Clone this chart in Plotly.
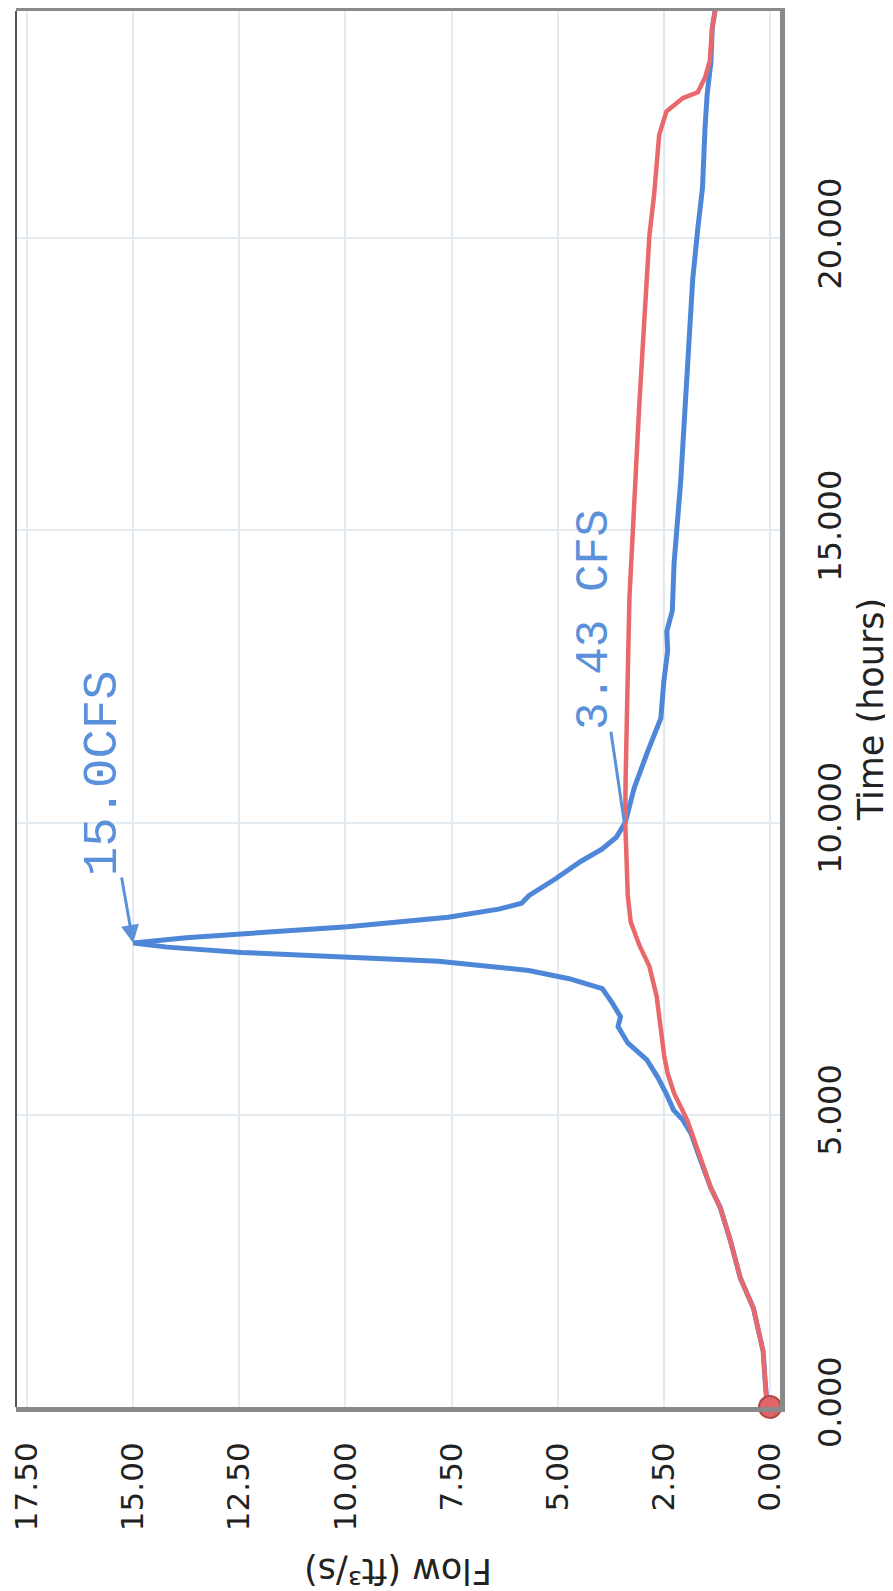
import plotly.graph_objects as go

# ---- data (time in hours, flow in ft3/s) ----
inflow_time = [0.0, 0.14, 0.5, 0.95, 1.3, 1.69, 2.21, 2.84, 3.41, 3.76, 4.27, 4.68, 4.91, 5.08,
               5.37, 5.65, 5.94, 6.23, 6.51, 6.68, 6.92, 7.16, 7.33, 7.47, 7.63, 7.70, 7.78,
               7.87, 7.94, 8.03, 8.12, 8.22, 8.38, 8.52, 8.62, 8.75, 9.04, 9.34, 9.55, 9.75,
               10.0, 10.59, 11.22, 11.79, 12.42, 12.94, 13.28, 13.63, 14.43, 15.12, 15.87,
               16.73, 17.3, 18.45, 19.3, 20.17, 20.86, 21.89, 22.46, 23.03, 23.6, 24.0]
inflow_flow = [0.0, 0.08, 0.12, 0.16, 0.27, 0.39, 0.70, 0.93, 1.17, 1.40, 1.66, 1.86, 2.05, 2.27,
               2.45, 2.65, 2.90, 3.35, 3.58, 3.52, 3.72, 3.95, 4.73, 5.68, 7.81, 9.95, 12.45,
               14.2, 15.0, 13.75, 12.1, 9.95, 7.58, 6.39, 5.85, 5.68, 5.05, 4.45, 3.95, 3.62,
               3.41, 3.2, 2.88, 2.57, 2.50, 2.41, 2.43, 2.30, 2.26, 2.18, 2.10,
               2.03, 1.99, 1.88, 1.82, 1.70, 1.59, 1.53, 1.48, 1.39, 1.36, 1.27]

outflow_time = [0.0, 0.14, 0.5, 0.95, 1.3, 1.69, 2.21, 2.84, 3.41, 3.76, 4.27, 4.68, 4.91, 5.37,
                5.71, 6.0, 6.45, 7.03, 7.54, 7.89, 8.30, 8.75, 9.4, 10.0, 10.76, 11.5, 12.54,
                13.86, 15.12, 16.15, 17.13, 17.99, 19.48, 20.05, 20.74, 21.31, 21.77, 22.17,
                22.40, 22.50, 22.75, 23.03, 23.6, 24.0]
outflow_flow = [0.0, 0.08, 0.12, 0.16, 0.27, 0.39, 0.70, 0.93, 1.17, 1.40, 1.64, 1.83, 1.95, 2.26,
                2.41, 2.49, 2.56, 2.67, 2.84, 3.07, 3.28, 3.35, 3.38, 3.41, 3.40, 3.37, 3.35,
                3.31, 3.23, 3.15, 3.08, 3.01, 2.90, 2.84, 2.73, 2.67, 2.61, 2.44,
                2.05, 1.70, 1.53, 1.42, 1.36, 1.27]

flow_ticks = [0.0, 2.5, 5.0, 7.5, 10.0, 12.5, 15.0, 17.5]
time_ticks = [0, 5, 10, 15, 20]

peak_note = "15.0CFS"
cross_note = "3.43 CFS"
peak_point = (15.0, 7.94)
cross_point = (3.43, 10.0)

BLUE = "#4f87d8"
RED = "#e8686b"
NOTE = "#5b90da"

fig = go.Figure()
fig.add_trace(go.Scatter(x=inflow_flow, y=inflow_time, mode="lines",
                         line=dict(color=BLUE, width=5), showlegend=False))
fig.add_trace(go.Scatter(x=outflow_flow, y=outflow_time, mode="lines",
                         line=dict(color=RED, width=4.5), showlegend=False))
fig.add_trace(go.Scatter(x=[outflow_flow[0]], y=[outflow_time[0]], mode="markers",
                         marker=dict(color="#e36467", size=22,
                                     line=dict(color="#b04848", width=2)),
                         cliponaxis=False, showlegend=False))

# the page body adds an 8px offset; size the figure so it fills the 893x1591 window
fig.update_layout(
    width=885, height=1583,
    margin=dict(l=8, r=113, t=3, b=184),
    paper_bgcolor="white", plot_bgcolor="white",
    font=dict(family="DejaVu Sans", color="#222222"),
    xaxis=dict(range=[17.76, -0.236], tickvals=flow_ticks,
               ticktext=[f"{v:.2f}" for v in flow_ticks], automargin=False,
               tickangle=-90, tickfont=dict(size=31, family="DejaVu Sans", color="#222"),
               ticklabelstandoff=18, ticklabeloverflow="allow",
               showgrid=True, gridcolor="#e4ebf0", gridwidth=2, zeroline=False,
               showline=True, linecolor="#8a8a8a", linewidth=5, mirror=True),
    yaxis=dict(range=[0, 23.89], side="right", tickvals=time_ticks,
               ticktext=[f"{v:.3f}" for v in time_ticks], automargin=False,
               tickangle=-90, tickfont=dict(size=32, family="DejaVu Sans", color="#222"),
               ticklabelstandoff=18, ticklabeloverflow="allow",
               showgrid=True, gridcolor="#e4ebf0", gridwidth=2, zeroline=False,
               showline=True, linecolor="#8a8a8a", linewidth=5, mirror=False,
               title=dict(text="Time (hours)", font=dict(size=35, family="DejaVu Sans", color="#222"),
                          standoff=12)),
)

# thin left border
fig.add_shape(type="line", xref="paper", yref="paper", x0=0, x1=0, y0=0, y1=1,
              line=dict(color="#555555", width=2))

# flow axis title (upside down, as in the rotated scan)
fig.add_annotation(text="Flow (ft³/s)", xref="paper", yref="paper", x=0.5, y=-0.1175,
                   showarrow=False, textangle=180, xanchor="center", yanchor="middle",
                   font=dict(size=35, family="DejaVu Sans", color="#222"))

# handwritten notes
fig.add_annotation(text=peak_note, x=peak_point[0], y=peak_point[1], ax=-30, ay=-170,
                   showarrow=True, arrowhead=2, arrowsize=1.2, arrowwidth=3, arrowcolor=NOTE,
                   textangle=-90, font=dict(size=49, family="Liberation Mono", color=NOTE))
fig.add_annotation(text=cross_note, x=cross_point[0], y=cross_point[1], ax=-30, ay=-203,
                   showarrow=True, arrowhead=0, arrowwidth=3, arrowcolor=NOTE,
                   textangle=-90, font=dict(size=46, family="Liberation Mono", color=NOTE))

fig.write_html("out.html")
